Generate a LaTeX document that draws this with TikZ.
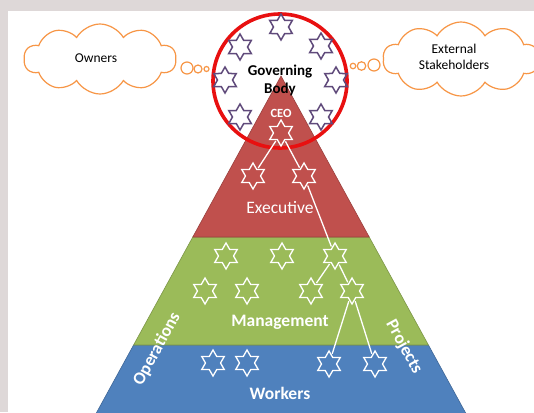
\documentclass[tikz,border=0pt]{standalone}
\usepackage{fontspec}
\setmainfont{Carlito}
\usetikzlibrary{shapes.geometric,shapes.symbols}
\definecolor{panelgray}{RGB}{222,216,216}
\definecolor{execred}{RGB}{192,80,77}
\definecolor{mgmtgreen}{RGB}{155,187,89}
\definecolor{workblue}{RGB}{79,129,189}
\definecolor{boardpurple}{RGB}{96,74,123}
\definecolor{cloudorange}{RGB}{247,150,70}
\definecolor{ringred}{RGB}{232,16,16}
\begin{document}
\begin{tikzpicture}[x=1pt,y=-1pt,
  hexstar/.style={star, star points=6, star point ratio=1.732, minimum size=26pt, inner sep=0pt, line width=1.3pt},
  wstar/.style={hexstar, draw=white},
  pstar/.style={hexstar, draw=boardpurple, line width=1.5pt},
  link/.style={draw=white, line width=1.3pt, shorten <=1pt, shorten >=1pt},
  thought/.style={cloud, cloud puffs=10, cloud puff arc=120, draw=cloudorange, line width=1.2pt, fill=white, inner sep=0pt},
  cloudtext/.style={align=center, font=\fontsize{13.5}{16}\selectfont},
  bubble/.style={circle, draw=cloudorange, line width=1.2pt, inner sep=0pt},
  bandlabel/.style={text=white, font=\bfseries\fontsize{17.5}{20}\selectfont},
  band/.style={line width=0.6pt},
]
\useasboundingbox (0,0) rectangle (534,412);
% page background and white panel
\fill[panelgray] (0,0) rectangle (534,412);
\fill[white] (8,11) rectangle (534,412);

% pyramid bands
\begin{scope}
\clip (0,0) rectangle (534,412);
\filldraw[band, fill=workblue, draw=workblue!80!black] (133.6,345) -- (428.4,345) -- (469.5,420) -- (92.5,420) -- cycle;
\filldraw[band, fill=mgmtgreen, draw=mgmtgreen!80!black] (192.8,237) -- (369.2,237) -- (428.4,345) -- (133.6,345) -- cycle;
\filldraw[band, fill=execred, draw=execred!80!black] (281,76) -- (369.2,237) -- (192.8,237) -- cycle;
\end{scope}

% governing body ring
\node[circle, draw=ringred, line width=3.6pt, minimum size=134pt, inner sep=0pt] (ring) at (280,81) {};
\node[font=\bfseries\fontsize{15}{18}\selectfont, align=center] (gb) at (280,80) {Governing\\Body};

% board members
\node[pstar] (b1) at (281,27) {};
\node[pstar] (b2) at (240,47) {};
\node[pstar] (b3) at (321,46) {};
\node[pstar] (b4) at (225,80) {};
\node[pstar] (b5) at (336,80) {};
\node[pstar] (b6) at (240,117) {};
\node[pstar] (b7) at (321,117) {};

% band labels
\node[text=white, font=\bfseries\fontsize{12.5}{14}\selectfont] (ceolbl) at (281,113) {CEO};
\node[text=white, font=\fontsize{17.5}{20}\selectfont] (execlbl) at (280,208) {Executive};
\node[bandlabel] (mgmtlbl) at (280,322) {Management};
\node[bandlabel] (worklbl) at (280,393) {Workers};
\node[bandlabel, rotate=61.3] (opslbl) at (157,349) {Operations};
\node[bandlabel, rotate=-61.3] (projlbl) at (404,347) {Projects};

% people in the pyramid
\node[wstar] (ceo) at (281,133) {};
\node[wstar] (e1) at (253,176) {};
\node[wstar] (e2) at (304,176) {};
\node[wstar] (m1) at (226,256) {};
\node[wstar] (m2) at (282,256) {};
\node[wstar] (m3) at (335,256) {};
\node[wstar] (m4) at (205,291) {};
\node[wstar] (m5) at (247,291) {};
\node[wstar] (m6) at (311,291) {};
\node[wstar] (m7) at (352,291) {};
\node[wstar] (w1) at (213,363) {};
\node[wstar] (w2) at (247,363) {};
\node[wstar] (w3) at (329,364) {};
\node[wstar] (w4) at (375,364) {};

% reporting lines
\draw[link] (ceo) -- (e1);
\draw[link] (ceo) -- (e2);
\draw[link] (e2) -- (m3);
\draw[link] (m3) -- (m6);
\draw[link] (m3) -- (m7);
\draw[link] (m7) -- (w3);
\draw[link] (m7) -- (w4);

% thought clouds
\node[thought, minimum width=152pt, minimum height=70pt] (owners) at (100,59) {};
\node[cloudtext] (ownerslbl) at (96,58) {Owners};
\node[bubble, minimum size=12pt] (o1) at (187,68) {};
\node[bubble, minimum size=8pt] (o2) at (198,69) {};
\node[bubble, minimum size=5pt] (o3) at (206.5,69) {};

\node[thought, minimum width=156pt, minimum height=74pt] (ext) at (461,59) {};
\node[cloudtext] (extlbl) at (454,57) {External\\Stakeholders};
\node[bubble, minimum size=12pt] (x1) at (374,65) {};
\node[bubble, minimum size=8.5pt] (x2) at (361.5,66) {};
\node[bubble, minimum size=5.5pt] (x3) at (353,66) {};
\end{tikzpicture}
\end{document}
